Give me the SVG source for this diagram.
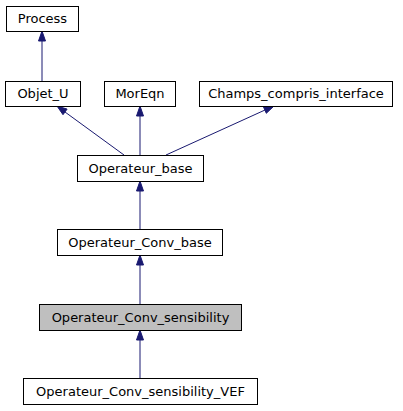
<svg xmlns="http://www.w3.org/2000/svg" width="403" height="411" viewBox="0 0 403 411">
<style>
.box{fill:#fff;stroke:#000;stroke-width:1}
.hl{fill:#bfbfbf;stroke:#000;stroke-width:1}
text{font-family:"DejaVu Sans","Liberation Sans",sans-serif;font-size:13px;text-anchor:middle;fill:#000}
.e{stroke:#191970;stroke-width:1;fill:none}
.ah{fill:#191970;stroke:#191970;stroke-width:1}
</style>
<rect width="403" height="411" fill="#fff"/>
<g id="connectors">
<line class="e" x1="42" y1="81" x2="42" y2="41"/>
<polygon class="ah" points="42,31 38.5,41 45.5,41"/>
<line class="e" x1="124" y1="155" x2="65" y2="112"/>
<polygon class="ah" points="57,106 67.1,109.1 63,114.7"/>
<line class="e" x1="140" y1="155" x2="140" y2="116"/>
<polygon class="ah" points="140,106 136.5,116 143.5,116"/>
<line class="e" x1="166" y1="155" x2="265" y2="110"/>
<polygon class="ah" points="274,106 263.5,106.9 266.3,113.3"/>
<line class="e" x1="140" y1="229" x2="140" y2="191"/>
<polygon class="ah" points="140,181 136.5,191 143.5,191"/>
<line class="e" x1="140" y1="304" x2="140" y2="265"/>
<polygon class="ah" points="140,255 136.5,265 143.5,265"/>
<line class="e" x1="140" y1="378" x2="140" y2="340"/>
<polygon class="ah" points="140,330 136.5,340 143.5,340"/>
</g>
<g id="Process"><rect class="box" x="6.5" y="6.5" width="72" height="25"/><text x="42.5" y="23">Process</text></g>
<g id="Objet_U"><rect class="box" x="5.5" y="81.5" width="75" height="25"/><text x="43" y="98">Objet_U</text></g>
<g id="MorEqn"><rect class="box" x="104.5" y="81.5" width="71" height="25"/><text x="140" y="98">MorEqn</text></g>
<g id="Champs_compris_interface"><rect class="box" x="199.5" y="81.5" width="193" height="25"/><text x="296" y="98">Champs_compris_interface</text></g>
<g id="Operateur_base"><rect class="box" x="77.5" y="155.5" width="126" height="26"/><text x="140.5" y="172.5">Operateur_base</text></g>
<g id="Operateur_Conv_base"><rect class="box" x="57.5" y="229.5" width="165" height="26"/><text x="140" y="246.5">Operateur_Conv_base</text></g>
<g id="Operateur_Conv_sensibility"><rect class="hl" x="39.5" y="304.5" width="202" height="26"/><text x="140.5" y="321.5">Operateur_Conv_sensibility</text></g>
<g id="Operateur_Conv_sensibility_VEF"><rect class="box" x="23.5" y="378.5" width="234" height="26"/><text x="140.5" y="395.5">Operateur_Conv_sensibility_VEF</text></g>
</svg>
